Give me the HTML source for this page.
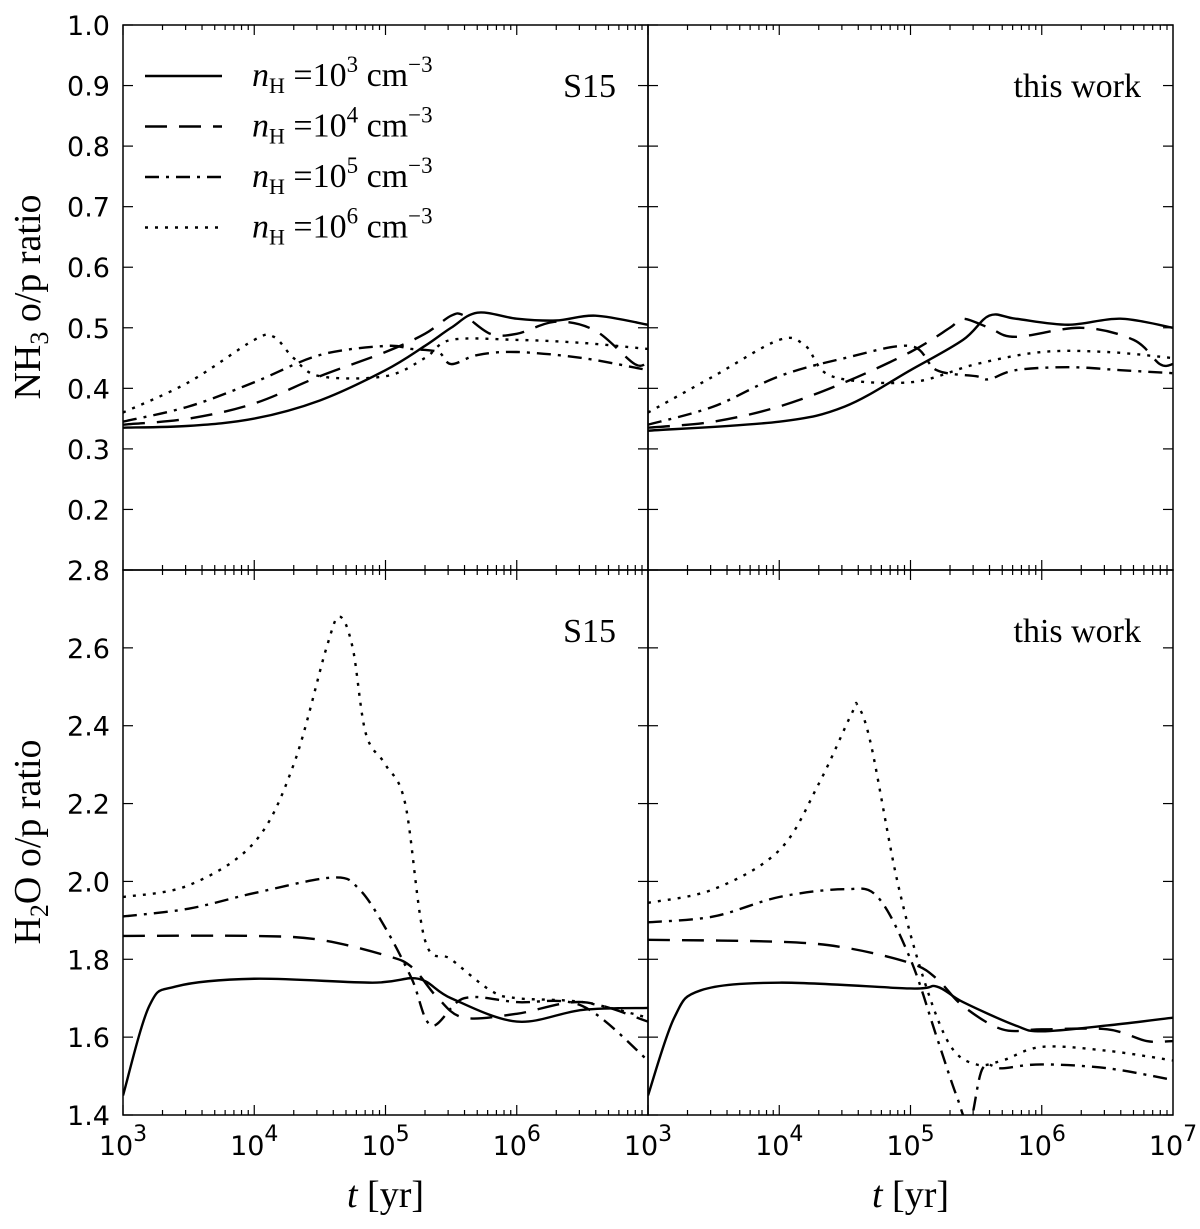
<!DOCTYPE html>
<html><head><meta charset="utf-8"><style>
body{margin:0;background:#fff}
svg text{fill:#000}
.tk{font-family:"DejaVu Sans","Liberation Sans",sans-serif;font-size:27px}
.sf{font-family:"Liberation Serif","DejaVu Serif",serif}
</style></head><body>
<svg id="c" width="1200" height="1224" viewBox="0 0 1200 1224" xmlns="http://www.w3.org/2000/svg"></svg>
<script>
const xTicks=[3,4,5,6,7];
const topTicks=[0.2,0.3,0.4,0.5,0.6,0.7,0.8,0.9,1.0];
const botTicks=[1.4,1.6,1.8,2.0,2.2,2.4,2.6,2.8];
const styles=["none","22,12","14,7,3,7","3,7"];
const seriesNames=["n1e3","n1e4","n1e5","n1e6"];
// top-left (S15) NH3
const tlX=[[3,3.5,4,4.5,5,5.3,5.5,5.7,6,6.3,6.6,7],[3,3.5,4,4.5,5,5.3,5.5,5.6,5.8,6,6.3,6.6,6.9,7],[3,3.5,4,4.5,5,5.2,5.4,5.5,5.7,6,6.5,7],[3,3.5,4,4.15,4.3,4.5,5,5.3,5.5,6,6.5,7]];
const tlY=[[0.335,0.338,0.35,0.38,0.43,0.47,0.50,0.525,0.515,0.512,0.52,0.505],[0.34,0.35,0.375,0.42,0.46,0.49,0.52,0.52,0.49,0.49,0.51,0.495,0.44,0.445],[0.345,0.37,0.41,0.455,0.47,0.465,0.46,0.44,0.455,0.46,0.45,0.43],[0.36,0.41,0.48,0.485,0.45,0.42,0.42,0.45,0.48,0.48,0.475,0.465]];
// top-right (this work) NH3
const trX=[[3,4,4.5,5,5.4,5.6,5.8,6.2,6.6,7],[3,3.5,4,4.5,5,5.3,5.4,5.6,5.8,6.3,6.7,6.9,7],[3,3.5,4,4.5,5,5.2,5.5,5.6,5.8,6.2,6.6,7],[3,3.5,4,4.2,4.4,5,5.5,6,6.5,7]];
const trY=[[0.33,0.345,0.37,0.43,0.48,0.52,0.515,0.505,0.515,0.50],[0.335,0.345,0.37,0.41,0.46,0.50,0.515,0.50,0.485,0.50,0.48,0.44,0.44],[0.34,0.37,0.42,0.45,0.47,0.43,0.42,0.415,0.43,0.435,0.43,0.425],[0.36,0.42,0.48,0.47,0.42,0.41,0.44,0.46,0.46,0.45]];
// bottom-left (S15) H2O
const blX=[[3,3.2,3.4,4,4.9,5.25,5.5,6,6.5,7],[3,4,4.5,5,5.2,5.4,5.6,6,6.5,7],[3,3.5,4,4.6,4.8,5,5.2,5.35,5.6,6,6.5,7],[3,3.5,4,4.3,4.55,4.65,4.75,4.85,5,5.15,5.3,5.5,5.8,6,6.5,7]];
const blY=[[1.45,1.68,1.73,1.75,1.74,1.75,1.70,1.64,1.67,1.675],[1.86,1.86,1.85,1.81,1.78,1.70,1.65,1.66,1.69,1.64],[1.91,1.93,1.97,2.01,1.98,1.88,1.75,1.63,1.70,1.69,1.68,1.54],[1.96,1.99,2.1,2.3,2.6,2.68,2.6,2.38,2.3,2.2,1.85,1.8,1.72,1.70,1.69,1.65]];
// bottom-right (this work) H2O
const brX=[[3,3.2,3.4,4,5,5.2,5.4,5.8,6,6.5,7],[3,4,4.5,5,5.2,5.4,5.7,6,6.5,6.8,7],[3,3.5,4,4.5,4.75,5,5.2,5.35,5.45,5.55,5.7,6,6.5,7],[3,3.5,4,4.3,4.55,4.6,4.7,4.9,5.1,5.3,5.5,5.7,6,6.5,7]];
const brY=[[1.45,1.65,1.72,1.74,1.725,1.73,1.69,1.63,1.615,1.63,1.65],[1.85,1.845,1.83,1.79,1.75,1.68,1.62,1.62,1.62,1.59,1.59],[1.895,1.91,1.96,1.98,1.96,1.8,1.60,1.45,1.38,1.52,1.52,1.53,1.52,1.49],[1.945,1.98,2.08,2.25,2.43,2.45,2.35,2.0,1.75,1.58,1.53,1.54,1.575,1.565,1.54]];

const NS="http://www.w3.org/2000/svg";
const svg=document.getElementById('c');
function el(t,a,p){const e=document.createElementNS(NS,t);for(const k in a)e.setAttribute(k,a[k]);(p||svg).appendChild(e);return e;}
const L=[123,648],W=525,T=[25,570],H=545;
function xs(col){return v=>L[col]+(v-3)/4*W;}
function ysTop(v){return T[0]+(1.0-v)/0.9*H;}
function ysBot(v){return T[1]+(2.8-v)/1.4*H;}
function smooth(pts){let d="M"+pts[0][0]+","+pts[0][1];for(let i=0;i<pts.length-1;i++){const p0=pts[Math.max(0,i-1)],p1=pts[i],p2=pts[i+1],p3=pts[Math.min(pts.length-1,i+2)];const c1=[p1[0]+(p2[0]-p0[0])/6,p1[1]+(p2[1]-p0[1])/6],c2=[p2[0]-(p3[0]-p1[0])/6,p2[1]-(p3[1]-p1[1])/6];d+=` C${c1[0]},${c1[1]} ${c2[0]},${c2[1]} ${p2[0]},${p2[1]}`;}return d;}
const defs=el('defs',{});
const panels=[[0,0,tlX,tlY,'S15'],[1,0,trX,trY,'this work'],[0,1,blX,blY,'S15'],[1,1,brX,brY,'this work']];
panels.forEach(([c,r,X,Y,lab],pi)=>{
  const cp=el('clipPath',{id:'cp'+pi},defs);el('rect',{x:L[c],y:T[r],width:W,height:H},cp);
  const g=el('g',{'clip-path':`url(#cp${pi})`});
  
  
  const x=xs(c),y=r?ysBot:ysTop;
  X.forEach((xa,si)=>{
    const pts=xa.map((v,i)=>[x(v),y(Y[si][i])]);
    const p=el('path',{d:smooth(pts),fill:'none',stroke:'#000','stroke-width':2.4,'stroke-dasharray':styles[si]},g);
    
    
  });
  const fr=el('rect',{x:L[c],y:T[r],width:W,height:H,fill:'none',stroke:'#000','stroke-width':1.5});
  
  
  for(let d=3;d<7;d++)for(let m=1;m<=9;m++){const v=d+Math.log10(m);const px=x(v);const len=m==1?10:5;
    el('line',{x1:px,x2:px,y1:T[r],y2:T[r]+len,stroke:'#000','stroke-width':1.2});
    el('line',{x1:px,x2:px,y1:T[r]+H,y2:T[r]+H-len,stroke:'#000','stroke-width':1.2});}
  (r?botTicks:topTicks).forEach(v=>{const py=y(v);
    el('line',{x1:L[c],x2:L[c]+10,y1:py,y2:py,stroke:'#000','stroke-width':1.2});
    el('line',{x1:L[c]+W,x2:L[c]+W-10,y1:py,y2:py,stroke:'#000','stroke-width':1.2});});
  const t=el('text',{x:L[c]+W-32,y:T[r]+72,'text-anchor':'end','font-size':34,class:'sf'});t.textContent=lab;
  
  
});
topTicks.forEach(v=>{const t=el('text',{x:110,y:ysTop(v)+10,'text-anchor':'end',class:'tk'});t.textContent=v.toFixed(1);
  });
botTicks.forEach(v=>{const t=el('text',{x:110,y:ysBot(v)+10,'text-anchor':'end',class:'tk'});t.textContent=v.toFixed(1);
  });
[0,1].forEach(c=>{const x=xs(c);xTicks.forEach(v=>{if(c==0&&v==7)return;const px=x(v);
  const t=el('text',{x:px,y:1155,'text-anchor':'middle',class:'tk','font-size':32});
  t.innerHTML=`10<tspan dy="-14" font-size="22">${v}</tspan>`;
  });
  const xl=el('text',{x:L[c]+W/2,y:1207,'text-anchor':'middle',class:'sf','font-size':38});
  xl.innerHTML='<tspan font-style="italic">t</tspan> [yr]';
  
});
let yt=el('text',{transform:'translate(40,297) rotate(-90)','text-anchor':'middle',class:'sf','font-size':38});
yt.innerHTML='NH<tspan dy="8" font-size="26">3</tspan><tspan dy="-8"> o/p ratio</tspan>';

yt=el('text',{transform:'translate(40,842) rotate(-90)','text-anchor':'middle',class:'sf','font-size':38});
yt.innerHTML='H<tspan dy="8" font-size="26">2</tspan><tspan dy="-8">O o/p ratio</tspan>';

const legE=[3,4,5,6];
legE.forEach((e,i)=>{const yy=76+i*50.5;
  const ln=el('line',{x1:145,x2:222,y1:yy,y2:yy,stroke:'#000','stroke-width':2.4,'stroke-dasharray':styles[i]});
  
  const t=el('text',{x:252,y:yy+10,class:'sf','font-size':34});
  t.innerHTML=`<tspan font-style="italic">n</tspan><tspan dy="7" font-size="22">H</tspan><tspan dy="-7"> =10</tspan><tspan dy="-14" font-size="23">${e}</tspan><tspan dy="14"> cm</tspan><tspan dy="-14" font-size="23">−3</tspan>`;
  
});
</script>
</body></html>
